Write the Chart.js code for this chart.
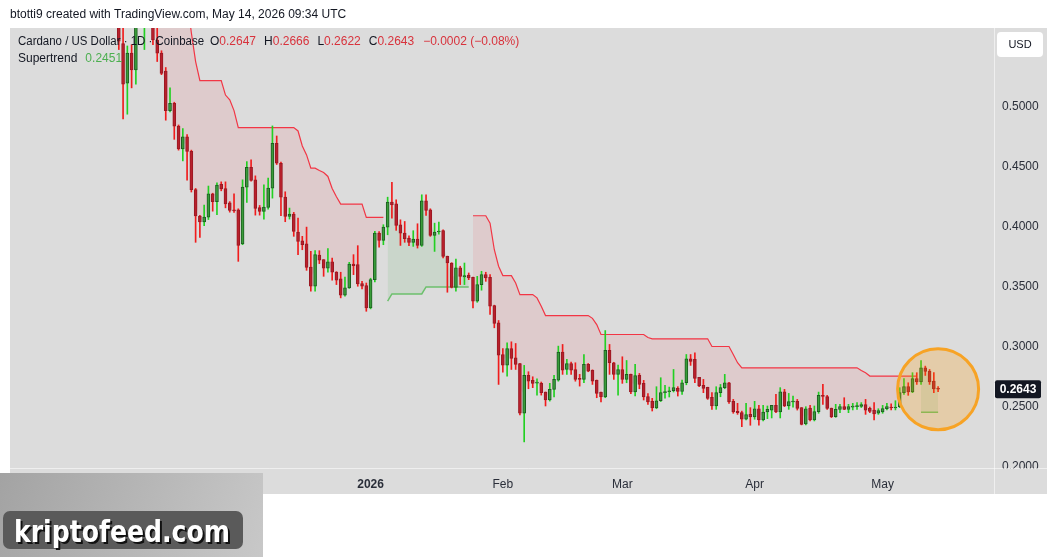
<!DOCTYPE html>
<html>
<head>
<meta charset="utf-8">
<title>ADA/USD daily</title>
<script src="https://cdn.jsdelivr.net/npm/chart.js@4.4.1/dist/chart.umd.min.js"></script>
<style>
html, body { margin: 0; padding: 0; background: #fff; }
#wrap { width: 1057px; height: 557px; position: relative; }
</style>
</head>
<body>
<div id="wrap"><canvas id="adaChart"></canvas></div>
<script>
// day 0 = 1 Jan 2026, first candle is 3 Nov 2025
var firstDay = -59;
var monthTicks = [-61, -30, 0, 31, 59, 90, 120];
var monthNames = ['Nov', 'Dec', '2026', 'Feb', 'Mar', 'Apr', 'May'];
var priceTicks = [0.20, 0.25, 0.30, 0.35, 0.40, 0.45, 0.50];

var opens = [
  0.600, 0.553, 0.520, 0.545, 0.531, 0.590, 0.580, 0.605, 0.590, 0.556,
  0.545, 0.530, 0.497, 0.503, 0.484, 0.465, 0.475, 0.463, 0.431, 0.409,
  0.404, 0.408, 0.4275, 0.421, 0.4355, 0.4319, 0.420, 0.4142, 0.4142, 0.3856,
  0.4331, 0.4497, 0.4392, 0.4161, 0.4128, 0.4161, 0.4322, 0.4697, 0.453, 0.4247,
  0.4086, 0.4106, 0.3956, 0.3883, 0.3858, 0.3664, 0.3503, 0.3764, 0.3725, 0.3653,
  0.3708, 0.3622, 0.3564, 0.3428, 0.3489, 0.3689, 0.3683, 0.3525, 0.3508, 0.3322,
  0.3558, 0.3947, 0.3886, 0.3997, 0.4206, 0.4192, 0.4017, 0.3947, 0.3906, 0.387,
  0.3897, 0.3844, 0.4217, 0.4142, 0.3928, 0.3956, 0.3967, 0.3753, 0.3697, 0.3494,
  0.3656, 0.3581, 0.3597, 0.3578, 0.3378, 0.3517, 0.360, 0.3578, 0.3342, 0.3197,
  0.2933, 0.2844, 0.2983, 0.2906, 0.2858, 0.2442, 0.2758, 0.2717, 0.2694, 0.2692,
  0.2619, 0.2553, 0.2642, 0.2719, 0.2953, 0.2808, 0.2858, 0.2808, 0.2733, 0.2725,
  0.285, 0.280, 0.2717, 0.2619, 0.2578, 0.2967, 0.2864, 0.2767, 0.2808, 0.2725,
  0.2767, 0.262, 0.2758, 0.2692, 0.2581, 0.2542, 0.2486, 0.2547, 0.2614, 0.2622,
  0.263, 0.265, 0.2625, 0.2697, 0.2897, 0.2892, 0.2742, 0.2675, 0.2658, 0.2575,
  0.2503, 0.2614, 0.2656, 0.2697, 0.2542, 0.2458, 0.2447, 0.2392, 0.2433, 0.2411,
  0.248, 0.2386, 0.2453, 0.2469, 0.2508, 0.2453, 0.2622, 0.2503, 0.2536, 0.2542,
  0.2489, 0.2353, 0.2486, 0.2386, 0.2456, 0.2592, 0.2581, 0.2483, 0.2414, 0.2475,
  0.2497, 0.2475, 0.2494, 0.2497, 0.250, 0.2514, 0.2483, 0.2469, 0.2442, 0.2453,
  0.2481, 0.2494, 0.2486, 0.2497, 0.2614, 0.2664, 0.262, 0.2731, 0.2703, 0.2822,
  0.2794, 0.2711, 0.2647
];
var highs = [
  0.610, 0.572, 0.551, 0.552, 0.600, 0.610, 0.620, 0.615, 0.600, 0.570,
  0.547, 0.533, 0.516, 0.504, 0.485, 0.482, 0.477, 0.464, 0.432, 0.4095,
  0.418, 0.434, 0.428, 0.4366, 0.4375, 0.4375, 0.421, 0.4275, 0.415, 0.4392,
  0.4544, 0.4558, 0.4425, 0.4178, 0.435, 0.4406, 0.4842, 0.4758, 0.454, 0.4292,
  0.4156, 0.412, 0.4072, 0.392, 0.3997, 0.3794, 0.380, 0.380, 0.3725, 0.3817,
  0.3739, 0.3625, 0.362, 0.358, 0.3703, 0.3767, 0.3842, 0.3544, 0.353, 0.357,
  0.3961, 0.396, 0.4017, 0.4247, 0.4372, 0.4225, 0.4058, 0.4044, 0.3925, 0.3967,
  0.4025, 0.4267, 0.4267, 0.415, 0.403, 0.4039, 0.3975, 0.3755, 0.370, 0.373,
  0.367, 0.3697, 0.3614, 0.358, 0.3586, 0.3628, 0.362, 0.360, 0.3345, 0.3217,
  0.2983, 0.303, 0.3039, 0.3025, 0.286, 0.2842, 0.2789, 0.2747, 0.273, 0.2703,
  0.262, 0.2692, 0.2758, 0.3003, 0.3017, 0.2892, 0.287, 0.2864, 0.2767, 0.2933,
  0.2858, 0.2805, 0.272, 0.262, 0.3133, 0.3017, 0.2868, 0.2844, 0.2914, 0.2883,
  0.277, 0.285, 0.2775, 0.2717, 0.2606, 0.2567, 0.2664, 0.2739, 0.2675, 0.2661,
  0.2808, 0.2664, 0.272, 0.2933, 0.2933, 0.2947, 0.2742, 0.2725, 0.266, 0.2614,
  0.2664, 0.2683, 0.2767, 0.270, 0.2558, 0.2525, 0.246, 0.2525, 0.2489, 0.2542,
  0.2508, 0.2508, 0.2503, 0.2508, 0.260, 0.2656, 0.2642, 0.2608, 0.2586, 0.2558,
  0.249, 0.2497, 0.2508, 0.2503, 0.2619, 0.2683, 0.2592, 0.2486, 0.2517, 0.2517,
  0.2572, 0.2517, 0.2525, 0.2531, 0.2531, 0.2558, 0.2494, 0.2531, 0.248, 0.2508,
  0.2525, 0.252, 0.2547, 0.2656, 0.2731, 0.2697, 0.2781, 0.2781, 0.2883, 0.2836,
  0.2808, 0.2781, 0.2666
];
var lows = [
  0.548, 0.490, 0.494, 0.516, 0.519, 0.570, 0.548, 0.585, 0.552, 0.538,
  0.527, 0.489, 0.496, 0.473, 0.464, 0.455, 0.439, 0.429, 0.387, 0.391,
  0.401, 0.406, 0.413, 0.410, 0.430, 0.4158, 0.4122, 0.412, 0.3711, 0.385,
  0.4203, 0.438, 0.4097, 0.4097, 0.4064, 0.4147, 0.4239, 0.452, 0.4092, 0.4042,
  0.4064, 0.392, 0.3767, 0.3808, 0.3636, 0.3461, 0.3461, 0.3692, 0.3586, 0.362,
  0.3553, 0.3517, 0.3406, 0.342, 0.3485, 0.360, 0.3503, 0.348, 0.3294, 0.3314,
  0.354, 0.383, 0.385, 0.3933, 0.4072, 0.397, 0.3844, 0.387, 0.3842, 0.3836,
  0.3822, 0.3836, 0.4094, 0.392, 0.3794, 0.3939, 0.3739, 0.3453, 0.3489, 0.3461,
  0.3517, 0.3517, 0.3558, 0.3322, 0.3369, 0.347, 0.3544, 0.3267, 0.3156, 0.2683,
  0.2786, 0.2753, 0.2808, 0.2808, 0.2428, 0.2203, 0.2647, 0.2656, 0.2594, 0.2594,
  0.2503, 0.2544, 0.2578, 0.271, 0.2767, 0.2767, 0.2767, 0.271, 0.2669, 0.2697,
  0.2789, 0.2683, 0.2572, 0.2536, 0.2572, 0.2767, 0.2725, 0.2594, 0.2692, 0.2697,
  0.2606, 0.2586, 0.2647, 0.2553, 0.2517, 0.2461, 0.248, 0.254, 0.2569, 0.2578,
  0.262, 0.2586, 0.260, 0.268, 0.2842, 0.2697, 0.2664, 0.2614, 0.2558, 0.2475,
  0.2475, 0.258, 0.2647, 0.2525, 0.2442, 0.2433, 0.233, 0.2386, 0.2342, 0.2392,
  0.2342, 0.2378, 0.2397, 0.2403, 0.2447, 0.2403, 0.2497, 0.2475, 0.2494, 0.2469,
  0.2345, 0.2345, 0.2378, 0.2378, 0.2442, 0.2517, 0.2475, 0.2406, 0.2408, 0.2447,
  0.2472, 0.2447, 0.247, 0.2475, 0.249, 0.2433, 0.2447, 0.2386, 0.2433, 0.2442,
  0.247, 0.247, 0.247, 0.2489, 0.260, 0.2592, 0.2614, 0.2683, 0.2683, 0.2758,
  0.2683, 0.2614, 0.2622
];
var closes = [
  0.555, 0.519, 0.545, 0.531, 0.590, 0.580, 0.605, 0.590, 0.556, 0.545,
  0.528, 0.497, 0.503, 0.484, 0.465, 0.475, 0.463, 0.431, 0.409, 0.404,
  0.408, 0.4275, 0.421, 0.4347, 0.4316, 0.4191, 0.4136, 0.4133, 0.3844, 0.4331,
  0.4497, 0.4386, 0.4153, 0.4128, 0.4164, 0.4322, 0.4697, 0.453, 0.4247, 0.4086,
  0.4106, 0.3961, 0.3878, 0.385, 0.3661, 0.3503, 0.3767, 0.372, 0.3653, 0.3708,
  0.362, 0.3553, 0.3428, 0.3489, 0.3689, 0.3675, 0.3522, 0.3503, 0.3322, 0.3558,
  0.3947, 0.3886, 0.3997, 0.4206, 0.4183, 0.4011, 0.3947, 0.390, 0.387, 0.3897,
  0.3844, 0.4217, 0.4136, 0.3928, 0.3956, 0.3964, 0.3753, 0.3697, 0.3494, 0.3656,
  0.3586, 0.3592, 0.3572, 0.3378, 0.3517, 0.360, 0.3572, 0.3336, 0.3192, 0.2928,
  0.2844, 0.2983, 0.290, 0.285, 0.2442, 0.2758, 0.2711, 0.2692, 0.2697, 0.2614,
  0.2553, 0.2642, 0.2725, 0.2953, 0.2803, 0.2858, 0.2803, 0.2725, 0.2725, 0.285,
  0.2794, 0.2711, 0.2608, 0.2578, 0.2967, 0.2864, 0.2767, 0.2808, 0.2725, 0.2767,
  0.262, 0.2756, 0.2683, 0.2578, 0.2536, 0.2486, 0.2547, 0.2614, 0.2622, 0.263,
  0.2656, 0.2625, 0.2697, 0.2897, 0.2875, 0.2733, 0.267, 0.265, 0.2567, 0.2503,
  0.2614, 0.2656, 0.2697, 0.2536, 0.2453, 0.2447, 0.2392, 0.2431, 0.2411, 0.248,
  0.2386, 0.2453, 0.2475, 0.2508, 0.2453, 0.2622, 0.2503, 0.2539, 0.2542, 0.2483,
  0.235, 0.248, 0.2386, 0.2456, 0.2592, 0.2583, 0.2483, 0.2414, 0.2475, 0.2497,
  0.2475, 0.2497, 0.250, 0.250, 0.2514, 0.2469, 0.2458, 0.2436, 0.2464, 0.2481,
  0.2497, 0.2486, 0.2492, 0.2614, 0.2664, 0.262, 0.2731, 0.2703, 0.2822, 0.2792,
  0.2703, 0.2645, 0.2643
];

// Supertrend, red while price is under it, green while above
var stDown = [
  null, null, null, null, null, null, 0.66, 0.66, 0.64, 0.64,
  0.62, 0.62, 0.61, 0.60, 0.60, 0.60, 0.59, 0.562, 0.538, 0.522,
  0.522, 0.522, 0.522, 0.522, 0.522, 0.51, 0.506, 0.497, 0.4828, 0.4828,
  0.4828, 0.4828, 0.4828, 0.4828, 0.4828, 0.4828, 0.4828, 0.4828, 0.4828, 0.4828,
  0.4828, 0.4828, 0.480, 0.4675, 0.46, 0.4489, 0.4489, 0.447, 0.4453, 0.442,
  0.432, 0.425, 0.4189, 0.4189, 0.4189, 0.4189, 0.4189, 0.419, 0.4078, 0.4078,
  0.4078, 0.4078, 0.4078, null, null, null, null, null, null, null,
  null, null, null, null, null, null, null, null, null, null,
  null, null, null, 0.4092, 0.4092, 0.4092, 0.4092, 0.403, 0.3808, 0.367,
  0.3592, 0.3592, 0.3592, 0.353, 0.3433, 0.3433, 0.3433, 0.3433, 0.3406, 0.3336,
  0.3258, 0.3258, 0.3258, 0.3258, 0.3258, 0.3258, 0.3258, 0.3258, 0.3258, 0.3258,
  0.3258, 0.3235, 0.3183, 0.31, 0.31, 0.31, 0.31, 0.31, 0.31, 0.31,
  0.31, 0.31, 0.31, 0.31, 0.3075, 0.3064, 0.3064, 0.3064, 0.3064, 0.3064,
  0.3064, 0.3064, 0.3064, 0.3064, 0.3064, 0.3064, 0.3064, 0.3064, 0.3064, 0.300,
  0.300, 0.300, 0.300, 0.300, 0.2933, 0.2864, 0.2822, 0.2822, 0.2822, 0.2822,
  0.2822, 0.2822, 0.2822, 0.2822, 0.2822, 0.2822, 0.2822, 0.2822, 0.2822, 0.2822,
  0.2822, 0.2822, 0.2822, 0.2822, 0.2822, 0.2822, 0.2822, 0.2822, 0.2822, 0.2822,
  0.2822, 0.2822, 0.2822, 0.2822, 0.28, 0.2781, 0.2753, 0.2753, 0.2753, 0.2753,
  0.2753, 0.2753, 0.2753, 0.2753, 0.2753, 0.2753, 0.2753, 0.2753, null, null,
  null, null, null
];
var stUp = [
  null, null, null, null, null, null, null, null, null, null,
  null, null, null, null, null, null, null, null, null, null,
  null, null, null, null, null, null, null, null, null, null,
  null, null, null, null, null, null, null, null, null, null,
  null, null, null, null, null, null, null, null, null, null,
  null, null, null, null, null, null, null, null, null, null,
  null, null, null, 0.3378, 0.3439, 0.3439, 0.3439, 0.3439, 0.3439, 0.3439,
  0.3439, 0.3439, 0.3497, 0.3497, 0.3497, 0.3497, 0.3497, 0.3497, 0.3497, 0.3497,
  0.3497, 0.3497, 0.3497, null, null, null, null, null, null, null,
  null, null, null, null, null, null, null, null, null, null,
  null, null, null, null, null, null, null, null, null, null,
  null, null, null, null, null, null, null, null, null, null,
  null, null, null, null, null, null, null, null, null, null,
  null, null, null, null, null, null, null, null, null, null,
  null, null, null, null, null, null, null, null, null, null,
  null, null, null, null, null, null, null, null, null, null,
  null, null, null, null, null, null, null, null, null, null,
  null, null, null, null, null, null, null, null, null, null,
  null, null, null, null, null, null, null, null, 0.2451, 0.2451,
  0.2451, 0.2451, 0.2451
];

var upColor = '#3a9c3a', upBorder = '#1b5e20', upWick = '#22d022';
var downColor = '#b8202c', downBorder = '#9a1822', downWick = '#f01c1c';

var isUp = closes.map(function (c, i) { return c >= opens[i]; });
var bodies = opens.map(function (o, i) { return { x: firstDay + i, y: [o, closes[i]] }; });
var wicks = lows.map(function (l, i) { return { x: firstDay + i, y: [l, highs[i]] }; });
var bodyMid = opens.map(function (o, i) { return { x: firstDay + i, y: (o + closes[i]) / 2 }; });
var stDownPts = stDown.map(function (v, i) { return { x: firstDay + i, y: v }; });
var stUpPts = stUp.map(function (v, i) { return { x: firstDay + i, y: v }; });

// writes a run of coloured pieces left to right, returns the end x
function textRun(c, parts, x, y, font) {
  c.font = font;
  parts.forEach(function (p) {
    c.fillStyle = p[1];
    c.fillText(p[0], x, y);
    x += c.measureText(p[0]).width + (p[2] || 0);
  });
  return x;
}

var decor = {
  id: 'decor',
  beforeDraw: function (chart) {
    var c = chart.ctx;
    c.save();
    c.fillStyle = '#ffffff';
    c.fillRect(0, 0, chart.width, chart.height);
    c.fillStyle = '#dcdcdc';
    c.fillRect(10, 28, 1037, 466);
    c.restore();
  },
  afterDatasetsDraw: function (chart) {
    var c = chart.ctx, last = closes.length - 1;
    var cx = chart.scales.x.getPixelForValue(firstDay + last);
    var cy = chart.scales.y.getPixelForValue(closes[last]);
    c.save();
    c.beginPath();
    c.arc(cx, cy, 40.5, 0, Math.PI * 2);
    c.fillStyle = 'rgba(255,152,0,0.23)';
    c.fill();
    c.lineWidth = 3;
    c.strokeStyle = '#f7a325';
    c.stroke();
    c.restore();
  },
  afterDraw: function (chart) {
    var c = chart.ctx, area = chart.chartArea, last = closes.length - 1;
    var red = '#d8323c', dark = '#131722';
    var f = '12px "Liberation Sans", Arial, sans-serif';
    c.save();
    // price axis is cut at the bottom of the pane
    c.fillStyle = '#dcdcdc';
    c.fillRect(area.right + 1, area.bottom + 1, 52, 25);
    c.strokeStyle = 'rgba(255,255,255,0.55)';
    c.lineWidth = 1;
    c.beginPath();
    c.moveTo(area.right + 0.5, 28); c.lineTo(area.right + 0.5, 494);
    c.moveTo(10, area.bottom + 0.5); c.lineTo(1047, area.bottom + 0.5);
    c.stroke();

    c.textBaseline = 'middle';
    c.textAlign = 'left';
    c.font = f;
    c.fillStyle = dark;
    c.fillText('btotti9 created with TradingView.com, May 14, 2026 09:34 UTC', 10, 15);

    var chg = closes[last] - closes[last - 1];
    var pct = chg / closes[last - 1] * 100;
    c.fillText('Cardano / US Dollar \u00b7 1D \u00b7 Coinbase', 18, 42, 186);
    textRun(c, [
      ['O', dark], [opens[last].toFixed(4), red, 8],
      ['H', dark], [highs[last].toFixed(4), red, 8],
      ['L', dark], [lows[last].toFixed(4), red, 8],
      ['C', dark], [closes[last].toFixed(4), red, 9],
      ['\u2212' + Math.abs(chg).toFixed(4) + ' (\u2212' + Math.abs(pct).toFixed(2) + '%)', red]
    ], 210, 42, f);
    textRun(c, [['Supertrend', dark, 8], [stUp[last].toFixed(4), '#4caf50']], 18, 59, f);

    // USD button
    c.fillStyle = '#ffffff';
    c.beginPath();
    c.roundRect(997, 32, 46, 25, 4);
    c.fill();
    c.textAlign = 'center';
    c.font = '11px "Liberation Sans", Arial, sans-serif';
    c.fillStyle = dark;
    c.fillText('USD', 1020, 45);

    // last price tag
    var py = chart.scales.y.getPixelForValue(closes[last]);
    c.fillStyle = dark;
    c.beginPath();
    c.roundRect(995, py - 9, 46, 18, 2);
    c.fill();
    c.font = 'bold 12px "Liberation Sans", Arial, sans-serif';
    c.fillStyle = '#ffffff';
    c.fillText(closes[last].toFixed(4), 1018, py + 0.5);

    // watermark
    var g = c.createLinearGradient(0, 473, 263, 557);
    g.addColorStop(0, '#a3a3a3');
    g.addColorStop(1, '#c8c8c8');
    c.fillStyle = g;
    c.fillRect(0, 473, 263, 84);
    c.fillStyle = '#5a5a5a';
    c.beginPath();
    c.roundRect(3, 511, 240, 38, 7);
    c.fill();
    c.textAlign = 'left';
    c.textBaseline = 'alphabetic';
    c.shadowColor = '#111111';
    c.shadowOffsetX = 2;
    c.shadowOffsetY = 2;
    c.font = 'bold 30px "Liberation Sans Narrow", "DejaVu Sans Condensed", sans-serif';
    c.fillStyle = '#ffffff';
    c.fillText('kriptofeed.com', 14, 542, 216);
    c.restore();
  }
};

var ctx = document.getElementById('adaChart');
var myChart = new Chart(ctx, {
  type: 'bar',
  data: {
    datasets: [{
      label: 'Body',
      data: bodies,
      backgroundColor: isUp.map(function (u) { return u ? upColor : downColor; }),
      borderColor: isUp.map(function (u) { return u ? upBorder : downBorder; }),
      borderWidth: 1,
      borderSkipped: false,
      barThickness: 3,
      minBarLength: 1,
      grouped: false,
      order: 0
    }, {
      label: 'Wick',
      data: wicks,
      backgroundColor: isUp.map(function (u) { return u ? upWick : downWick; }),
      borderWidth: 0,
      barThickness: 1,
      grouped: false,
      order: 1
    }, {
      type: 'line',
      label: 'Supertrend down',
      data: stDownPts,
      borderColor: '#f23645',
      borderWidth: 1.2,
      backgroundColor: 'rgba(242,54,69,0.10)',
      fill: 4,
      pointRadius: 0,
      spanGaps: false,
      order: 3
    }, {
      type: 'line',
      label: 'Supertrend up',
      data: stUpPts,
      borderColor: '#6cc06c',
      borderWidth: 1.5,
      backgroundColor: 'rgba(76,175,80,0.12)',
      fill: 4,
      pointRadius: 0,
      spanGaps: false,
      order: 3
    }, {
      type: 'line',
      label: 'Body middle',
      data: bodyMid,
      borderWidth: 0,
      borderColor: 'rgba(0,0,0,0)',
      pointRadius: 0,
      fill: false,
      order: 4
    }]
  },
  options: {
    responsive: true,
    maintainAspectRatio: false,
    animation: false,
    devicePixelRatio: 1,
    events: [],
    layout: { padding: { left: 10, top: 28, right: 10, bottom: 63 } },
    plugins: {
      legend: { display: false },
      tooltip: { enabled: false }
    },
    scales: {
      x: {
        type: 'linear',
        min: -84.5,
        max: 146.1,
        offset: false,
        grid: { display: false, drawTicks: false },
        border: { display: false },
        afterBuildTicks: function (s) {
          s.ticks = monthTicks.map(function (v) { return { value: v }; });
        },
        afterFit: function (s) { s.height = 26; },
        ticks: {
          autoSkip: false,
          maxRotation: 0,
          padding: 9,
          color: '#2a2e39',
          font: function (c) {
            var bold = c.tick && c.tick.value === 0;
            return { family: '"Liberation Sans", Arial, sans-serif', size: 12, weight: bold ? 'bold' : 'normal' };
          },
          callback: function (v) {
            var k = monthTicks.indexOf(v);
            return k >= 0 ? monthNames[k] : '';
          }
        }
      },
      y: {
        position: 'right',
        min: 0.1985,
        max: 0.566,
        grid: { display: false, drawTicks: false },
        border: { display: false },
        afterBuildTicks: function (s) {
          s.ticks = priceTicks.map(function (v) { return { value: v }; });
        },
        afterFit: function (s) { s.width = 53; },
        ticks: {
          padding: 8,
          color: '#2a2e39',
          font: { family: '"Liberation Sans", Arial, sans-serif', size: 12 },
          callback: function (v) { return v.toFixed(4); }
        }
      }
    }
  },
  plugins: [decor]
});
</script>
</body>
</html>
